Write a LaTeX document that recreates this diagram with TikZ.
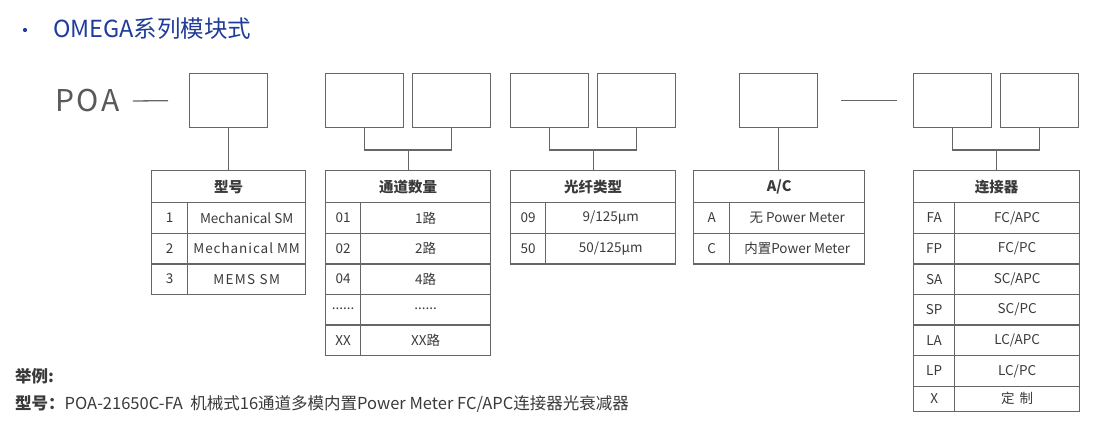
\documentclass[tikz,border=0pt]{standalone}
\usepackage{fontspec}
\newfontfamily\cjk{Noto Sans CJK SC}
\usetikzlibrary{positioning}
\definecolor{titleblue}{HTML}{1F3C99}
\definecolor{linegray}{HTML}{666666}
\definecolor{textgray}{HTML}{3A3A3A}
\tikzset{
	codebox/.style={draw=linegray, line width=1.3pt, minimum width=78pt, minimum height=54pt, inner sep=0pt},
	cell/.style={draw=linegray, line width=1.3pt, anchor=north west, inner sep=0pt, minimum height=30.6pt, text=textgray, font=\cjk\fontsize{13.5}{15}\selectfont},
	headcell/.style={cell, minimum height=32pt, font=\cjk\bfseries\fontsize{14.5}{16}\selectfont},
	link/.style={draw=linegray, line width=1.3pt}
}

\begin{document}
\begin{tikzpicture}[x=1pt, y=-1pt]
	\useasboundingbox (0,0) rectangle (1100,445);
	% Title
	\node (dot) [circle, fill=titleblue, inner sep=0pt, minimum size=4.2pt] at (25,30) {};
	\node (title) [anchor=west, inner sep=0pt, text=titleblue, font=\cjk\fontsize{23.5}{27}\selectfont] at (53,29) {OMEGA系列模块式};
	
	% Code boxes
	\node (poa) [anchor=west, inner sep=0pt, text=black!65, font=\cjk\fontsize{30}{34}\selectfont\addfontfeature{LetterSpace=9}] at (55,101) {POA};
	\node (b1) [codebox, anchor=north west] at (189,73) {};
	\node (b2) [codebox, anchor=north west] at (325,73) {};
	\node (b3) [codebox, anchor=north west] at (412,73) {};
	\node (b4) [codebox, anchor=north west] at (510,73) {};
	\node (b5) [codebox, anchor=north west] at (597,73) {};
	\node (b6) [codebox, anchor=north west] at (739,73) {};
	\node (b7) [codebox, anchor=north west] at (913,73) {};
	\node (b8) [codebox, anchor=north west] at (1000,73) {};
	
	% Tables
	\node (t1) [headcell, minimum width=154pt] at (151,170) {型号};
	\foreach \k/\v [count=\i] in {1/Mechanical SM, 2/{\addfontfeature{LetterSpace=7}Mechanical MM}, 3/{\addfontfeature{LetterSpace=10}MEMS SM}} {
		\node (t1k\i) [cell, minimum width=36pt] at (151,{202+30.6*(\i-1)}) {\k};
		\node (t1v\i) [cell, minimum width=118pt] at (187,{202+30.6*(\i-1)}) {\v};
	}
	\node (t2) [headcell, minimum width=165pt] at (325,170) {通道数量};
	\foreach \k/\v [count=\i] in {01/1路, 02/2路, 04/4路} {
		\node (t2k\i) [cell, minimum width=35pt] at (325,{202+30.6*(\i-1)}) {\k};
		\node (t2v\i) [cell, minimum width=130pt] at (360,{202+30.6*(\i-1)}) {\v};
	}
	\node (t2k4) [cell, minimum width=35pt] at (325,293.8) {\raisebox{3pt}{......}};
	\node (t2v4) [cell, minimum width=130pt] at (360,293.8) {\raisebox{3pt}{......}};
	\node (t2k5) [cell, minimum width=35pt] at (325,324.4) {XX};
	\node (t2v5) [cell, minimum width=130pt] at (360,324.4) {XX路};
	\node (t3) [headcell, minimum width=165pt] at (510,170) {光纤类型};
	\foreach \k/\v [count=\i] in {09/{9/125μm}, 50/{50/125μm}} {
		\node (t3k\i) [cell, minimum width=35pt] at (510,{202+30.6*(\i-1)}) {\k};
		\node (t3v\i) [cell, minimum width=130pt] at (545,{202+30.6*(\i-1)}) {\v};
	}
	\node (t4) [headcell, minimum width=171pt] at (693,170) {A/C};
	\foreach \k/\v [count=\i] in {A/无 Power Meter, C/内置Power Meter} {
		\node (t4k\i) [cell, minimum width=36pt] at (693,{202+30.6*(\i-1)}) {\k};
		\node (t4v\i) [cell, minimum width=135pt] at (729,{202+30.6*(\i-1)}) {\v};
	}
	\node (t5) [headcell, minimum width=166pt] at (913,170) {连接器};
	\foreach \k/\v [count=\i] in {FA/{FC/APC}, FP/{FC/PC}, SA/{SC/APC}, SP/{SC/PC}, LA/{LC/APC}, LP/{LC/PC}} {
		\node (t5k\i) [cell, minimum width=41pt] at (913,{202+30.6*(\i-1)}) {\k};
		\node (t5v\i) [cell, minimum width=125pt] at (954,{202+30.6*(\i-1)}) {\v};
	}
	\node (t5k7) [cell, minimum width=41pt, minimum height=25pt] at (913,385.6) {X};
	\node (t5v7) [cell, minimum width=125pt, minimum height=25pt] at (954,385.6) {定\hspace{5pt}制};
	
	% Connectors
	\draw [link] ([xshift=13pt]poa.east) -- ([xshift=-21pt]b1.west);
	\draw [link] ([xshift=23pt]b6.east) -- ([xshift=-16pt]b7.west);
	\draw [link] (b1.south) -- (b1.south |- t1.north);
	\draw [link] (b6.south) -- (b6.south |- t4.north);
	\coordinate (j2) at ([yshift=20pt]t2.north);
	\coordinate (j3) at ([yshift=20pt]t3.north);
	\coordinate (j5) at ([yshift=20pt]t5.north);
	\draw [link] (b2.south) |- (j2) -| (b3.south);
	\draw [link] (j2) -- (t2.north);
	\draw [link] (b4.south) |- (j3) -| (b5.south);
	\draw [link] (j3) -- (t3.north);
	\draw [link] (b7.south) |- (j5) -| (b8.south);
	\draw [link] (j5) -- (t5.north);
	
	% Example
	\node (ex) [anchor=west, inner sep=0pt, text=textgray, font=\cjk\bfseries\fontsize{16.5}{19}\selectfont] at (15,376) {举例:};
	\node (exline) [anchor=west, inner sep=0pt, text=textgray, font=\cjk\fontsize{16.5}{19}\selectfont] at (15,404) {\textbf{型号：}POA-21650C-FA\ \ 机械式16通道多模内置Power Meter FC/APC连接器光衰减器};
\end{tikzpicture}
\end{document}
